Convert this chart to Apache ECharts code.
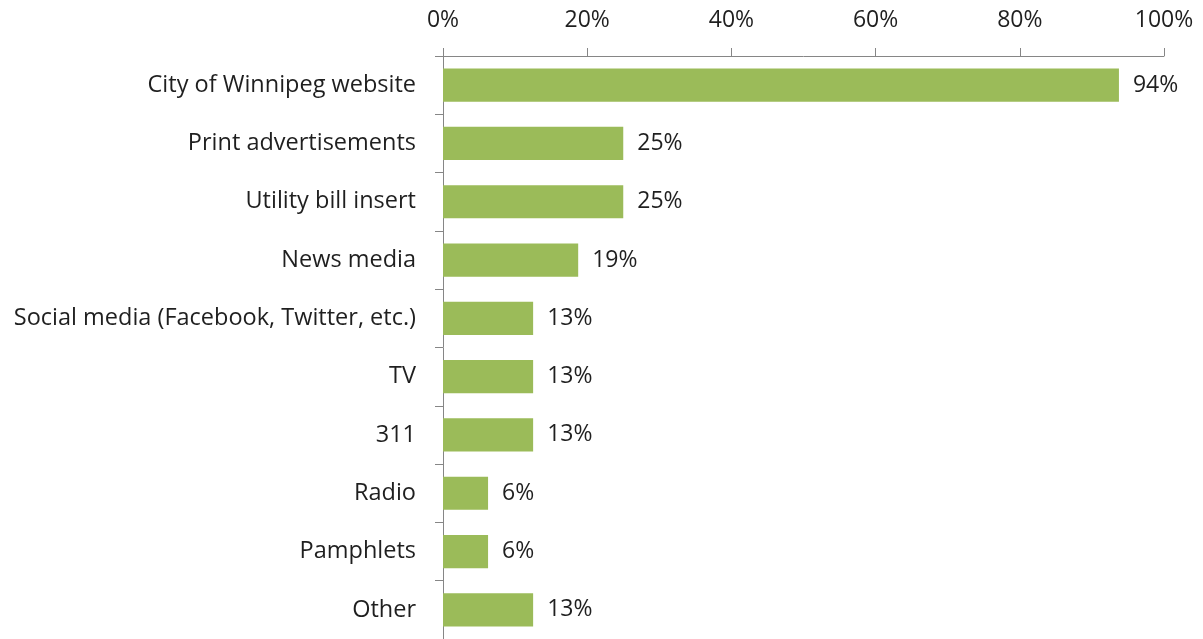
<!DOCTYPE html>
<html><head><meta charset="utf-8">
<script src="https://cdn.jsdelivr.net/npm/echarts@6/dist/echarts.min.js"></script>
<style>html,body{margin:0;padding:0;background:#fff}#c{width:1203px;height:639px}</style>
</head><body><div id="c"></div>
<script>
const categories = ["City of Winnipeg website","Print advertisements","Utility bill insert","News media","Social media (Facebook, Twitter, etc.)","TV","311","Radio","Pamphlets","Other"];
const values = [93.75, 25, 25, 18.75, 12.5, 12.5, 12.5, 6.25, 6.25, 12.5];
const xTicks = [0, 20, 40, 60, 80, 100];

const font = "Open Sans";
const txt = "#1f1f1f";
const chart = echarts.init(document.getElementById('c'), null, {renderer:'canvas'});
chart.setOption({
  animation:false,
  grid:{left:443, top:56, width:721, height:584, containLabel:false},
  xAxis:{type:'value', position:'top', min:xTicks[0], max:xTicks[xTicks.length-1], interval:20,
    axisLine:{show:true, lineStyle:{color:'#868686', width:1}},
    axisTick:{show:true, length:8, lineStyle:{color:'#868686'}},
    splitLine:{show:false},
    axisLabel:{formatter:v=>v+'%', color:txt, fontFamily:font, fontSize:23, margin:24}},
  yAxis:{type:'category', inverse:true, data:categories,
    axisLine:{show:true, lineStyle:{color:'#868686', width:1}},
    axisTick:{show:true, length:8, alignWithLabel:false, lineStyle:{color:'#868686'}},
    axisLabel:{color:txt, fontFamily:font, fontSize:23.5, margin:27}},
  series:[{type:'bar', data:values, barCategoryGap:'43%',
    itemStyle:{color:'#9BBB59'},
    label:{show:true, position:'right', distance:14, color:txt, fontFamily:font, fontSize:23,
      formatter:p=>Math.round(p.value)+'%'}}]
});
</script></body></html>
